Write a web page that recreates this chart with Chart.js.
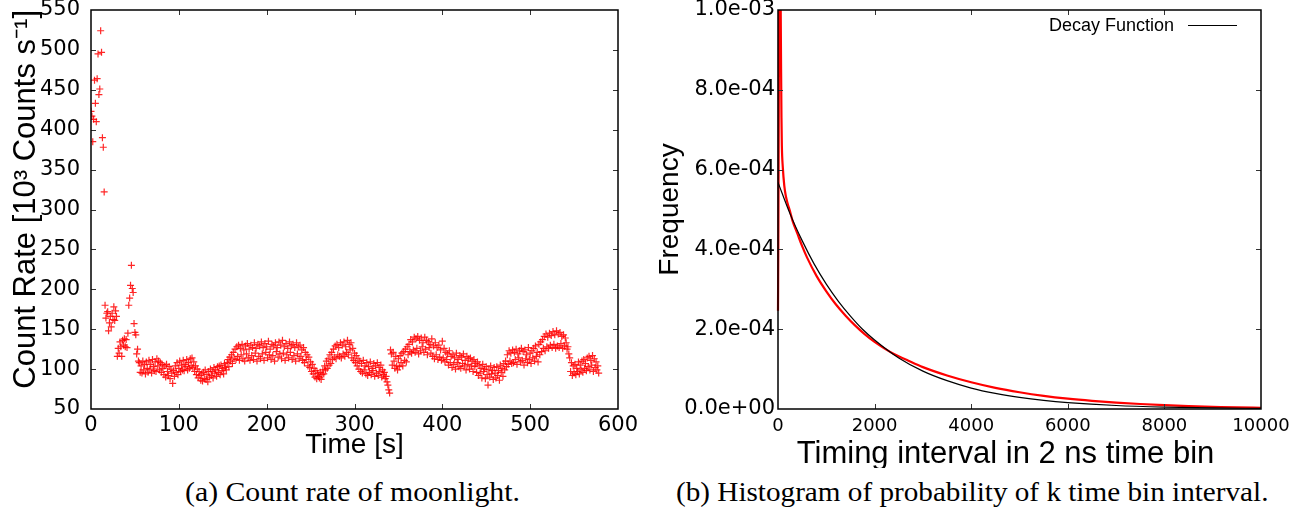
<!DOCTYPE html>
<html>
<head>
<meta charset="utf-8">
<script src="https://cdn.jsdelivr.net/npm/chart.js@4.4.1/dist/chart.umd.min.js"></script>
<style>
  html, body { margin: 0; padding: 0; background: #fff; }
  #wrap { position: relative; width: 1312px; height: 515px; overflow: hidden; background: #fff; }
  #cA { position: absolute; left: 0; top: 0; }
  #cB { position: absolute; left: 640px; top: 0; }
  .cap { position: absolute; top: 474px; white-space: nowrap; font-family: "Liberation Serif", "DejaVu Serif", serif;
         font-size: 28px; line-height: 36px; color: #000; transform-origin: 50% 50%; }
</style>
</head>
<body>
<div id="wrap">
  <canvas id="cA" width="640" height="470"></canvas>
  <canvas id="cB" width="672" height="468"></canvas>
  <span class="cap" id="capA">(a) Count rate of moonlight.</span>
  <span class="cap" id="capB">(b) Histogram of probability of k time bin interval.</span>
</div>
<script>
// ---------------- Panel (a): count rate of moonlight, one sample per second from t = 0 s ----------------
const moonCounts = [
  423, 417, 385, 413, 462, 433, 410, 464, 495, 444, 451, 524, 497, 390, 378, 322,
  180, 164, 170, 172, 148, 158, 166, 153, 170, 162,
  178, 161, 173, 166, 116, 126, 120, 134, 128, 116,
  136, 130, 138, 128, 137, 127, 145, 180, 189, 205,
  230, 201, 196, 157, 146, 143, 119, 125, 110,
  108, 96, 104, 95, 110, 99, 106, 94, 109, 101,
  96, 111, 100, 106, 95, 112, 103, 98, 109, 97,
  113, 104, 110, 99, 108, 96, 106, 101, 93, 104,
  90, 106, 97, 92, 103, 88, 100, 95, 82, 98,
  91, 104, 96, 108, 93, 101, 110, 97, 105, 99,
  111, 98, 106, 103, 112, 99, 108, 101, 113, 104,
  114, 102, 109, 97, 104, 93, 100, 89, 97, 92,
  86, 94, 85, 96, 88, 99, 87, 93, 84, 97,
  90, 100, 92, 97, 89, 102, 95, 99, 91, 103,
  96, 104, 93, 105, 98, 101, 94, 107, 102, 99,
  108, 112, 103, 115, 110, 118, 107, 121, 113, 125,
  112, 128, 116, 130, 111, 126, 118, 131, 113, 124,
  110, 129, 119, 132, 114, 125, 111, 130, 117, 127,
  112, 133, 120, 126, 110, 131, 116, 129, 113, 134,
  119, 127, 111, 132, 121, 128, 114, 135, 118, 125,
  112, 131, 117, 129, 110, 133, 122, 127, 115, 134,
  119, 130, 113, 136, 120, 128, 111, 132, 118, 126,
  114, 134, 121, 129, 112, 131, 117, 127, 110, 133,
  119, 128, 113, 130, 116, 124, 111, 127, 108, 121,
  112, 118, 104, 115, 102, 109, 97, 106, 94, 101,
  90, 98, 88, 95, 91, 89, 96, 87, 93, 99,
  94, 104, 99, 110, 101, 113, 105, 118, 107, 121,
  112, 125, 115, 129, 113, 131, 118, 127, 116, 133,
  114, 130, 119, 134, 116, 128, 121, 136, 118, 131,
  124, 133, 114, 126, 111, 120, 108, 117, 104, 113,
  100, 110, 97, 107, 95, 111, 99, 104, 94, 108,
  92, 103, 96, 109, 93, 101, 98, 107, 91, 104,
  95, 108, 92, 102, 97, 105, 90, 99, 93, 96,
  88, 91, 84, 80, 74, 70,
  124, 119, 105, 121, 110, 101, 116, 104, 99, 113,
  103, 117, 108, 120, 104, 122, 111, 125, 109, 128,
  118, 131, 122, 137, 120, 134, 124, 140, 121, 138,
  126, 141, 119, 136, 123, 139, 128, 133, 121, 140,
  125, 136, 118, 134, 127, 131, 120, 138, 116, 129,
  113, 133, 118, 127, 112, 130, 115, 124, 111, 135,
  114, 126, 109, 121, 112, 119, 105, 123, 108, 116,
  102, 118, 106, 114, 100, 120, 108, 112, 103, 117,
  101, 115, 107, 119, 104, 111, 99, 116, 106, 113,
  100, 114, 104, 110, 97, 112, 103, 107, 96, 109,
  92, 105, 95, 101, 89, 106, 97, 100, 88, 103,
  93, 80, 99, 90, 104, 94, 98, 87, 102, 95,
  89, 103, 92, 98, 86, 105, 96, 101, 91, 107,
  99, 110, 103, 118, 106, 123, 110, 120, 107, 124,
  108, 121, 112, 125, 106, 119, 114, 123, 109, 126,
  111, 122, 105, 124, 113, 118, 108, 127, 112, 120,
  107, 123, 114, 126, 110, 129, 116, 121, 109, 131,
  118, 134, 122, 137, 126, 141, 123, 144, 128, 140,
  126, 145, 130, 142, 127, 147, 131, 143, 126, 148,
  129, 144, 127, 146, 132, 141, 126, 143, 129, 139,
  133, 125, 128, 119, 114,
  97, 108, 92, 104, 95, 106, 93, 101, 97, 109,
  94, 105, 99, 110, 96, 112, 101, 107, 98, 114,
  103, 116, 99, 111, 105, 117, 97, 113, 102, 109,
  99, 104, 95
];
const moonXTicks = [0, 100, 200, 300, 400, 500, 600];
const moonYTicks = [50, 100, 150, 200, 250, 300, 350, 400, 450, 500, 550];

// ---------------- Panel (b): histogram of k time-bin intervals ----------------
const histK    = [0, 8, 16, 24, 32, 40, 48, 56, 64, 72, 80, 100, 130, 160, 200, 250, 300, 400, 500, 600,
                  800, 1000, 1200, 1400, 1600, 1800, 2000, 2200, 2400, 2700, 3000, 3500, 4000, 4500, 5000,
                  5500, 6000, 6500, 7000, 7500, 8000, 8500, 9000, 9500, 10000];
const histFreq = [2.46e-4, 4.5e-4, 7.5e-4, 1.05e-3, 1.25e-3, 1.3e-3, 1.2e-3, 1.0e-3, 8.5e-4, 7.3e-4, 6.6e-4,
                  6.05e-4, 5.6e-4, 5.35e-4, 5.15e-4, 4.95e-4, 4.72e-4, 4.4e-4, 4.08e-4, 3.8e-4,
                  3.33e-4, 2.95e-4, 2.62e-4, 2.34e-4, 2.09e-4, 1.87e-4, 1.68e-4, 1.52e-4, 1.38e-4, 1.21e-4,
                  1.05e-4, 8.4e-5, 6.7e-5, 5.3e-5, 4.2e-5, 3.3e-5, 2.6e-5, 2.05e-5, 1.6e-5, 1.25e-5,
                  9.5e-6, 7e-6, 5.5e-6, 4e-6, 3e-6];
const decayK    = [0, 250, 500, 750, 1000, 1250, 1500, 1750, 2000, 2500, 3000, 3500, 4000, 4500, 5000,
                   5500, 6000, 7000, 8000, 9000, 10000];
const decayFreq = [5.68e-4, 4.89e-4, 4.22e-4, 3.63e-4, 3.13e-4, 2.70e-4, 2.33e-4, 2.00e-4, 1.73e-4, 1.28e-4,
                   9.5e-5, 7.1e-5, 5.25e-5, 3.9e-5, 2.9e-5, 2.15e-5, 1.6e-5, 8.8e-6, 4.9e-6, 2.7e-6, 1.5e-6];
const histXTicks = [0, 2000, 4000, 6000, 8000, 10000];
const histYTicks = [0, 2e-4, 4e-4, 6e-4, 8e-4, 1e-3];
const legendLabel = 'Decay Function';

// ---------------- shared helpers ----------------
const SANS = '"Liberation Sans", Arial, Helvetica, sans-serif';
const WIDE = '"DejaVu Sans", "Liberation Sans", sans-serif';

function fixTicks(arr) { return s => { s.ticks = arr.map(v => ({ value: v })); }; }
function zeroPad(scale) { scale.paddingTop = 0; scale.paddingBottom = 0; scale.paddingLeft = 0; scale.paddingRight = 0; }

const frameTicks = {
  id: 'frameTicks',
  afterLayout(chart, args, opts) {
    // narrow the x-axis box only while the axis title is painted (title is centred on the box)
    if (opts.titleShiftRight) chart.scales.x.right -= opts.titleShiftRight;
  },
  beforeDatasetsDraw(chart, args, opts) {
    if (opts.titleShiftRight) chart.scales.x.right += opts.titleShiftRight;
  },
  afterDatasetsDraw(chart, args, opts) {
    const { ctx, chartArea: a, scales } = chart;
    const L = opts.len || 5;
    ctx.save();
    ctx.strokeStyle = opts.tickColor || '#333';
    ctx.lineWidth = 1;
    ctx.beginPath();
    scales.x.ticks.forEach(t => {
      const p = Math.round(scales.x.getPixelForValue(t.value)) + 0.5;
      if (p <= a.left + 1 || p >= a.right - 1) return;
      ctx.moveTo(p, a.bottom); ctx.lineTo(p, a.bottom - L);
      ctx.moveTo(p, a.top); ctx.lineTo(p, a.top + L);
    });
    scales.y.ticks.forEach(t => {
      const p = Math.round(scales.y.getPixelForValue(t.value)) + 0.5;
      if (p <= a.top + 1 || p >= a.bottom - 1) return;
      ctx.moveTo(a.left, p); ctx.lineTo(a.left + L, p);
      ctx.moveTo(a.right, p); ctx.lineTo(a.right - L, p);
    });
    ctx.stroke();
    ctx.strokeStyle = '#000';
    ctx.lineWidth = 1.5;
    ctx.strokeRect(a.left, a.top, a.right - a.left, a.bottom - a.top);
    ctx.restore();
  }
};

const decayLegend = {
  id: 'decayLegend',
  afterDraw(chart, args, opts) {
    const { ctx } = chart;
    ctx.save();
    ctx.font = '18px ' + SANS;
    ctx.fillStyle = '#000';
    ctx.textAlign = 'right';
    ctx.textBaseline = 'middle';
    ctx.fillText(opts.text, opts.textRight, opts.y);
    ctx.strokeStyle = '#000';
    ctx.lineWidth = 1;
    ctx.beginPath();
    ctx.moveTo(opts.lineFrom, opts.y - 0.5);
    ctx.lineTo(opts.lineTo, opts.y - 0.5);
    ctx.stroke();
    ctx.restore();
  }
};

function expLabel(v) {
  const [m, e] = Number(v).toExponential(1).split('e');
  const sign = e[0] === '-' ? '-' : '+';
  const d = e.replace(/[+-]/, '');
  return m + 'e' + sign + (d.length < 2 ? '0' + d : d);
}

// ---------------- Chart (a) ----------------
new Chart(document.getElementById('cA'), {
  type: 'scatter',
  data: {
    datasets: [{
      data: moonCounts.map((v, i) => ({ x: i, y: v })),
      pointStyle: 'cross',
      pointRadius: 3.5,
      pointBorderWidth: 1.2,
      pointBorderColor: 'rgba(255,0,0,0.85)',
      pointBackgroundColor: 'rgba(255,0,0,0.85)'
    }]
  },
  options: {
    responsive: false, animation: false, devicePixelRatio: 1,
    layout: { padding: { top: 10, right: 22, left: 0, bottom: 0 } },
    plugins: { legend: { display: false }, tooltip: { enabled: false }, frameTicks: { len: 5 } },
    scales: {
      x: {
        type: 'linear', min: 0, max: 600,
        afterBuildTicks: fixTicks(moonXTicks),
        afterFit: s => { s.height = 61; zeroPad(s); },
        grid: { display: false, drawTicks: false }, border: { display: false },
        ticks: { color: '#000', padding: 4, maxRotation: 0, autoSkip: false, font: { family: WIDE, size: 21 }, callback: v => String(v) },
        title: { display: true, text: 'Time [s]', color: '#000', font: { family: SANS, size: 28 }, padding: { top: 0, bottom: 8 } }
      },
      y: {
        type: 'linear', min: 50, max: 550,
        afterBuildTicks: fixTicks(moonYTicks),
        afterFit: s => { s.width = 91; zeroPad(s); },
        grid: { display: false, drawTicks: false }, border: { display: false },
        ticks: { color: '#000', padding: 11, autoSkip: false, font: { family: WIDE, size: 21 }, callback: v => String(v) },
        title: { display: true, align: 'end', text: 'Count Rate [10³ Counts s⁻¹]', color: '#000', font: { family: SANS, size: 31 }, padding: { top: 8, bottom: 0 } }
      }
    }
  },
  plugins: [frameTicks]
});

// ---------------- Chart (b) ----------------
new Chart(document.getElementById('cB'), {
  type: 'line',
  data: {
    datasets: [
      {
        label: legendLabel,
        data: decayK.map((k, i) => ({ x: k, y: decayFreq[i] })),
        borderColor: '#000', borderWidth: 1.2, pointRadius: 0,
        cubicInterpolationMode: 'monotone', fill: false, order: 0
      },
      {
        label: 'data',
        data: histK.map((k, i) => ({ x: k, y: histFreq[i] })),
        borderColor: '#ff0000', borderWidth: 2.2, pointRadius: 0,
        cubicInterpolationMode: 'monotone', fill: false, order: 1,
        clip: { left: 2, top: 0, right: 2, bottom: 2 }
      }
    ]
  },
  options: {
    responsive: false, animation: false, devicePixelRatio: 1,
    layout: { padding: { top: 10, right: 51, left: 0, bottom: 0 } },
    plugins: {
      legend: { display: false }, tooltip: { enabled: false },
      frameTicks: { len: 5, titleShiftRight: 28 },
      decayLegend: { text: legendLabel, textRight: 534, y: 26, lineFrom: 548, lineTo: 597 }
    },
    scales: {
      x: {
        type: 'linear', min: 0, max: 10000,
        afterBuildTicks: fixTicks(histXTicks),
        afterFit: s => { s.height = 59; zeroPad(s); },
        grid: { display: false, drawTicks: false }, border: { display: false },
        ticks: { color: '#000', padding: 7, maxRotation: 0, autoSkip: false, font: { family: WIDE, size: 18 }, callback: v => String(v) },
        title: { display: true, text: 'Timing interval in 2 ns time bin', color: '#000', font: { family: SANS, size: 31, lineHeight: 0.9 }, padding: { top: 0, bottom: 0 } }
      },
      y: {
        type: 'linear', min: 0, max: 1e-3,
        afterBuildTicks: fixTicks(histYTicks),
        afterFit: s => { s.width = 138; zeroPad(s); },
        grid: { display: false, drawTicks: false }, border: { display: false },
        ticks: { color: '#000', padding: 3, autoSkip: false, font: { family: WIDE, size: 21 }, callback: v => expLabel(v) },
        title: { display: true, text: 'Frequency', color: '#000', font: { family: SANS, size: 28 }, padding: { top: 13, bottom: 0 } }
      }
    }
  },
  plugins: [frameTicks, decayLegend]
});

// ---------------- captions ----------------
function placeCaption(id, left, right) {
  const el = document.getElementById(id);
  const w = el.offsetWidth;
  const target = right - left;
  el.style.left = (left + target / 2 - w / 2) + 'px';
  el.style.transform = 'scaleX(' + (target / w) + ')';
}
placeCaption('capA', 185, 520);
placeCaption('capB', 676, 1268);
</script>
</body>
</html>
